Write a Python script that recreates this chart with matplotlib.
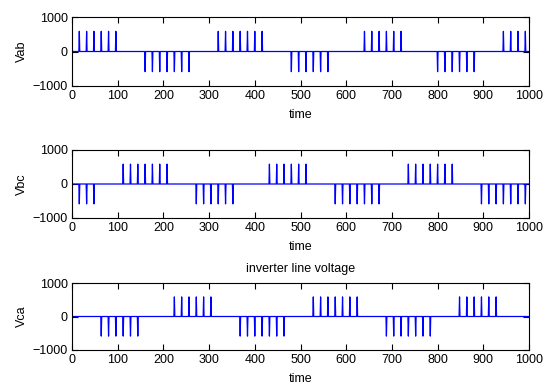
import numpy as np
import matplotlib
matplotlib.use("Agg")
import matplotlib.pyplot as plt

plt.rcParams['font.family'] = ['Liberation Sans', 'DejaVu Sans']
plt.rcParams['font.size'] = 9

# pulse times (start sample) and amplitude
amp = 585
t_end = 1000

vab_pos = [0, 16, 32, 48, 64, 80, 96, 320, 336, 352, 368, 384, 400, 416,
           640, 656, 672, 688, 704, 720, 944, 960, 976, 992]
vab_neg = [160, 176, 192, 208, 224, 240, 256, 480, 496, 512, 528, 544, 560,
           800, 816, 832, 848, 864, 880]

vbc_pos = [112, 128, 144, 160, 176, 192, 208, 432, 448, 464, 480, 496, 512,
           736, 752, 768, 784, 800, 816, 832]
vbc_neg = [0, 16, 32, 48, 272, 288, 304, 320, 336, 352,
           576, 592, 608, 624, 640, 656, 672, 896, 912, 928, 944, 960, 976, 992]

vca_pos = [224, 240, 256, 272, 288, 304, 528, 544, 560, 576, 592, 608, 624,
           848, 864, 880, 896, 912, 928]
vca_neg = [64, 80, 96, 112, 128, 144, 368, 384, 400, 416, 432, 448, 464,
           688, 704, 720, 736, 752, 768, 784]

ylabels = ["Vab", "Vbc", "Vca"]
xticks = np.arange(0, 1001, 100)
yticks = [-1000, 0, 1000]


def make_signal(pos, neg):
    t = np.arange(0, t_end + 1)
    v = np.zeros(len(t))
    v[pos] = amp
    v[neg] = -amp
    return t, v


fig = plt.figure(figsize=(5.45, 3.87), dpi=100)
boxes = [(17, 86), (150, 218), (283, 350)]  # top/bottom in pixels
W, H = 545.0, 387.0
left, right = 72, 529

series = [(vab_pos, vab_neg), (vbc_pos, vbc_neg), (vca_pos, vca_neg)]
for i, ((top, bot), (p, n)) in enumerate(zip(boxes, series)):
    ax = fig.add_axes([left / W, 1 - bot / H, (right - left) / W, (bot - top) / H])
    t, v = make_signal(p, n)
    ax.plot(t, v, color='#0000ff', linewidth=0.9)
    ax.set_xlim(0, 1000)
    ax.set_ylim(-1000, 1000)
    ax.set_xticks(xticks)
    ax.set_yticks(yticks)
    ax.tick_params(direction='in', top=True, right=True, length=4, pad=3,
                   width=0.8)
    for s in ax.spines.values():
        s.set_linewidth(0.8)
    ax.set_xlabel("time", labelpad=5)
    ax.set_ylabel(ylabels[i], labelpad=3)
    if i == 2:
        ax.set_title("inverter line voltage", fontsize=9, pad=8)

fig.savefig("out.png", dpi=100)
